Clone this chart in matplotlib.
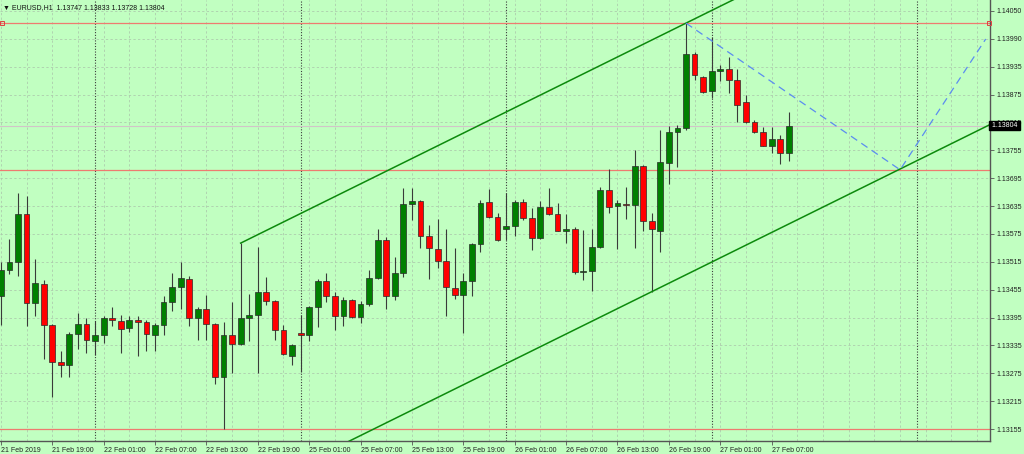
import numpy as np
import pandas as pd
import matplotlib
matplotlib.use("Agg")
import matplotlib.pyplot as plt
import matplotlib.transforms as mtransforms

plt.rcParams['font.family'] = ['Liberation Sans', 'DejaVu Sans']

# %% data - EURUSD H1 candles, 21 Feb 13:00 .. 27 Feb 09:00
opens = [1.13440, 1.13495, 1.13513, 1.13615, 1.13425, 1.13466, 1.13377, 1.13299, 1.13292, 1.13358,
         1.13379, 1.13343, 1.13356, 1.13393, 1.13386, 1.13371, 1.13388, 1.13385, 1.13356, 1.13377,
         1.13427, 1.13458, 1.13476, 1.13392, 1.13411, 1.13380, 1.13266, 1.13357, 1.13337, 1.13393,
         1.13400, 1.13448, 1.13430, 1.13366, 1.13312, 1.13361, 1.13357, 1.13416, 1.13472, 1.13440,
         1.13397, 1.13431, 1.13394, 1.13423, 1.13478, 1.13560, 1.13440, 1.13488, 1.13636, 1.13643,
         1.13568, 1.13540, 1.13515, 1.13457, 1.13442, 1.13471, 1.13551, 1.13640, 1.13609, 1.13584,
         1.13590, 1.13642, 1.13607, 1.13563, 1.13630, 1.13615, 1.13580, 1.13584, 1.13491, 1.13494,
         1.13544, 1.13667, 1.13632, 1.13637, 1.13634, 1.13718, 1.13600, 1.13580, 1.13724, 1.13790,
         1.13800, 1.13958, 1.13909, 1.13879, 1.13922, 1.13925, 1.13902, 1.13855, 1.13812, 1.13790,
         1.13762, 1.13775, 1.13747]
highs = [1.13513, 1.13562, 1.13660, 1.13654, 1.13518, 1.13474, 1.13380, 1.13321, 1.13363, 1.13403,
         1.13393, 1.13386, 1.13397, 1.13416, 1.13400, 1.13397, 1.13396, 1.13388, 1.13383, 1.13440,
         1.13488, 1.13512, 1.13483, 1.13417, 1.13441, 1.13382, 1.13384, 1.13426, 1.13553, 1.13443,
         1.13545, 1.13480, 1.13432, 1.13377, 1.13336, 1.13399, 1.13418, 1.13476, 1.13488, 1.13448,
         1.13437, 1.13433, 1.13429, 1.13495, 1.13583, 1.13566, 1.13523, 1.13670, 1.13670, 1.13645,
         1.13592, 1.13604, 1.13583, 1.13542, 1.13488, 1.13553, 1.13645, 1.13668, 1.13617, 1.13660,
         1.13645, 1.13648, 1.13628, 1.13643, 1.13670, 1.13638, 1.13615, 1.13588, 1.13581, 1.13584,
         1.13673, 1.13712, 1.13645, 1.13674, 1.13752, 1.13720, 1.13617, 1.13795, 1.13804, 1.13806,
         1.14024, 1.13963, 1.13911, 1.13995, 1.13934, 1.13951, 1.13925, 1.13870, 1.13817, 1.13801,
         1.13801, 1.13784, 1.13833]
lows = [1.13378, 1.13486, 1.13483, 1.13376, 1.13396, 1.13304, 1.13224, 1.13266, 1.13267, 1.13326,
        1.13317, 1.13314, 1.13340, 1.13376, 1.13317, 1.13363, 1.13312, 1.13321, 1.13323, 1.13356,
        1.13408, 1.13411, 1.13376, 1.13345, 1.13346, 1.13251, 1.13155, 1.13274, 1.13335, 1.13344,
        1.13274, 1.13420, 1.13346, 1.13314, 1.13291, 1.13276, 1.13343, 1.13374, 1.13428, 1.13366,
        1.13376, 1.13392, 1.13383, 1.13418, 1.13476, 1.13411, 1.13431, 1.13481, 1.13603, 1.13542,
        1.13476, 1.13499, 1.13396, 1.13433, 1.13361, 1.13440, 1.13535, 1.13607, 1.13557, 1.13560,
        1.13568, 1.13602, 1.13538, 1.13561, 1.13613, 1.13578, 1.13554, 1.13487, 1.13473, 1.13450,
        1.13542, 1.13617, 1.13541, 1.13605, 1.13542, 1.13578, 1.13449, 1.13535, 1.13680, 1.13717,
        1.13795, 1.13902, 1.13875, 1.13863, 1.13900, 1.13874, 1.13813, 1.13810, 1.13788, 1.13760,
        1.13745, 1.13722, 1.13728]
closes = [1.13495, 1.13512, 1.13615, 1.13425, 1.13468, 1.13377, 1.13298, 1.13292, 1.13358, 1.13379,
          1.13346, 1.13356, 1.13393, 1.13388, 1.13369, 1.13388, 1.13384, 1.13359, 1.13377, 1.13427,
          1.13458, 1.13478, 1.13392, 1.13411, 1.13380, 1.13266, 1.13357, 1.13338, 1.13392, 1.13400,
          1.13449, 1.13430, 1.13366, 1.13316, 1.13334, 1.13356, 1.13416, 1.13472, 1.13440, 1.13398,
          1.13431, 1.13394, 1.13422, 1.13478, 1.13560, 1.13440, 1.13488, 1.13636, 1.13643, 1.13568,
          1.13542, 1.13515, 1.13459, 1.13442, 1.13471, 1.13551, 1.13638, 1.13609, 1.13560, 1.13589,
          1.13642, 1.13607, 1.13563, 1.13630, 1.13615, 1.13580, 1.13584, 1.13491, 1.13494, 1.13544,
          1.13667, 1.13630, 1.13638, 1.13634, 1.13718, 1.13601, 1.13583, 1.13726, 1.13790, 1.13800,
          1.13958, 1.13913, 1.13877, 1.13922, 1.13926, 1.13902, 1.13849, 1.13812, 1.13790, 1.13762,
          1.13775, 1.13745, 1.13804]

price_labels = ["1.14050", "1.13990", "1.13935", "1.13875", "1.13815", "1.13755", "1.13695", "1.13635",
                "1.13575", "1.13515", "1.13455", "1.13395", "1.13335", "1.13275", "1.13215", "1.13155"]

# objects on the chart (bar index, price)
channel_p1 = (28, 1.13553)     # high used as first anchor
channel_p2 = (80, 1.14024)     # top of the move
channel_low = (76, 1.13449)    # lower parallel line
hlines = [1.14024, 1.13710, 1.13155]
bid = 1.13804
proj_x = [80, 105, 115]
proj_y = [1.14024, 1.13710, 1.13990]

# %% times (weekend skipped)
times = pd.date_range("2019-02-21 13:00", "2019-02-28 23:00", freq="h")
times = times[times.dayofweek < 5]
n = len(opens)
bars = np.arange(n)
seps = [i for i, t in enumerate(times) if t.hour == 0 and i < n + 24]
tick_bars = list(range(0, n, 6))
tick_text = [times[i].strftime("%d Feb %H:%M") for i in tick_bars]
tick_text[0] = "21 Feb 2019"

# %% plot
bg = '#C1FFC1'
fig = plt.figure(figsize=(10.24, 4.54), dpi=100, facecolor=bg)
ax = fig.add_axes([0, 13 / 454, 990 / 1024, 441 / 454], facecolor=bg)

top_p, bot_p = float(price_labels[0]), float(price_labels[-1])
step = (top_p - bot_p) / 418.3
ax.set_ylim(bot_p - 12 * step, top_p + 11 * step)
ax.set_xlim(-0.1, 115.5)

yt = np.linspace(top_p, bot_p, len(price_labels))
grid_c = '#abc7ab'
for v in yt:
    ax.axhline(v, color=grid_c, lw=0.55, ls=(0, (3, 3)), zorder=0.5)
for b in range(0, 117, 3):
    ax.axvline(b, color=grid_c, lw=0.55, ls=(0, (3, 3)), zorder=0.5)
for b in seps:
    ax.axvline(b, color='#3c3c3c', lw=0.8, ls=(0, (1, 1.5)), zorder=0.6)

o = np.array(opens)
h = np.array(highs)
l = np.array(lows)
c = np.array(closes)
up = c >= o
ax.vlines(bars, l, h, color='#3a3a3a', lw=0.8, zorder=2)
body = np.maximum(np.abs(c - o), 0.000025)
ax.bar(bars, body, bottom=np.minimum(o, c), width=0.68,
       color=np.where(up, '#008000', '#FF0000'), edgecolor='#2a2a2a', lw=0.5, zorder=3)

# horizontal lines
for v in hlines:
    ax.axhline(v, color='#EE7B70', lw=0.9, zorder=1.5)
ax.plot([0.15, 115.35], [hlines[0], hlines[0]], ls='none', marker='s', ms=2.6,
        mfc='none', mec='#E04040', mew=0.7, zorder=4, clip_on=False)
ax.axhline(bid, color='#d2c4c8', lw=0.8, zorder=1.4)

# channel
slope = (channel_p2[1] - channel_p1[1]) / (channel_p2[0] - channel_p1[0])
xr = np.array([channel_p1[0], 130])
ax.plot(xr, channel_p1[1] + slope * (xr - channel_p1[0]), color='#0C8A0C', lw=1.1, zorder=4)
ax.plot(xr, channel_low[1] + slope * (xr - channel_low[0]), color='#0C8A0C', lw=1.1, zorder=4)

# projection
ax.plot(proj_x, proj_y, color='#5B8CF0', lw=0.9, ls=(0, (6, 4)), zorder=4)

# axes
for s in ['top', 'left']:
    ax.spines[s].set_visible(False)
for s in ['right', 'bottom']:
    ax.spines[s].set_color('#555555')
    ax.spines[s].set_linewidth(1.0)
ax.yaxis.tick_right()
ax.set_yticks(yt)
ax.set_yticklabels(price_labels)
ax.set_xticks(tick_bars)
ax.set_xticklabels(tick_text, ha='left')
ax.tick_params(axis='y', length=3, width=0.6, color='#555555', pad=2, labelsize=5, labelcolor='#222222')
ax.tick_params(axis='x', length=3, width=0.6, color='#555555', pad=1.5, labelsize=5, labelcolor='#222222')

# current price box
trans = mtransforms.blended_transform_factory(ax.transAxes, ax.transData)
ax.text(1.0, bid, " 1.13804 ", transform=trans, ha='left', va='center', fontsize=5,
        color='white', bbox=dict(facecolor='black', edgecolor='black', pad=0.8), zorder=6, clip_on=False)

fig.text(3 / 1024, 1 - 8 / 454, "\u25bc EURUSD,H1  1.13747 1.13833 1.13728 1.13804",
         fontsize=5, va='center', ha='left', color='#111111')

fig.savefig("out.png", dpi=100, facecolor=bg)
